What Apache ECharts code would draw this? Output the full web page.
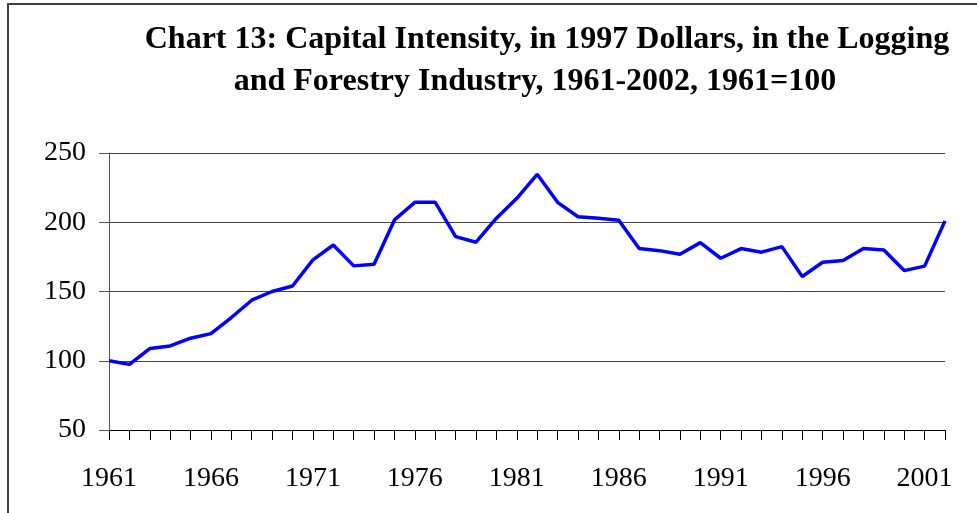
<!DOCTYPE html>
<html>
<head>
<meta charset="utf-8">
<script src="https://cdn.jsdelivr.net/npm/echarts@6/dist/echarts.min.js"></script>
<style>
html,body{margin:0;padding:0;background:#fff;}
#chart{width:977px;height:513px;}
</style>
</head>
<body>
<div id="chart"></div>
<script>
const titleLines = [
  "Chart 13: Capital Intensity, in 1997 Dollars, in the Logging",
  "and Forestry Industry, 1961-2002, 1961=100"
];
const years = [];
for (let y = 1961; y <= 2002; y++) years.push(String(y));
const values = [
  100.0, 97.4, 108.8, 110.7, 116.3, 119.6, 131.2, 143.7, 150.0, 154.0,
  172.8, 183.6, 168.5, 169.7, 201.7, 214.4, 214.4, 189.6, 185.6, 202.9,
  217.3, 234.6, 214.4, 204.0, 202.9, 201.4, 181.0, 179.5, 176.9, 185.3,
  174.0, 181.0, 178.4, 182.4, 160.8, 171.1, 172.3, 181.0, 180.0, 165.1,
  168.3, 201.0
];
const yMin = 50, yMax = 250, yStep = 50;

const chart = echarts.init(document.getElementById('chart'), null, {renderer: 'canvas'});
const serif = '"Liberation Serif","Times New Roman",serif';
const titleStyle = {fontFamily: serif, fontWeight: 'bold', fontSize: 32, lineHeight: 42, color: '#000'};
chart.setOption({
  animation: false,
  backgroundColor: '#fff',
  title: [
    {text: titleLines[0], left: 542, textAlign: 'center', top: 14, textStyle: titleStyle},
    {text: titleLines[1], left: 530, textAlign: 'center', top: 56, textStyle: titleStyle}
  ],
  graphic: [{
    type: 'rect',
    shape: {x: 8, y: 4, width: 1000, height: 600},
    style: {fill: 'none', stroke: '#404040', lineWidth: 2},
    silent: true
  }],
  grid: {left: 109, right: 32, top: 153, bottom: 83, containLabel: false},
  xAxis: {
    type: 'category',
    data: years,
    boundaryGap: false,
    axisLine: {show: true, lineStyle: {color: '#000', width: 1}},
    axisTick: {show: true, interval: 0, length: 10, inside: false, lineStyle: {color: '#000'}},
    axisLabel: {interval: 4, margin: 35, fontFamily: serif, fontSize: 28, color: '#000'},
    splitLine: {show: false}
  },
  yAxis: {
    type: 'value',
    min: yMin, max: yMax, interval: yStep,
    axisLine: {show: true, lineStyle: {color: '#555', width: 1}},
    axisTick: {show: true, length: 10, lineStyle: {color: '#555'}},
    axisLabel: {margin: 23, fontFamily: serif, fontSize: 28, color: '#000'},
    splitLine: {show: true, lineStyle: {color: '#444', width: 1}}
  },
  series: [{
    type: 'line',
    data: values,
    showSymbol: false,
    symbol: 'none',
    lineStyle: {color: '#0000ff', width: 3.5},
    itemStyle: {color: '#0000ff'}
  }]
});
</script>
</body>
</html>
